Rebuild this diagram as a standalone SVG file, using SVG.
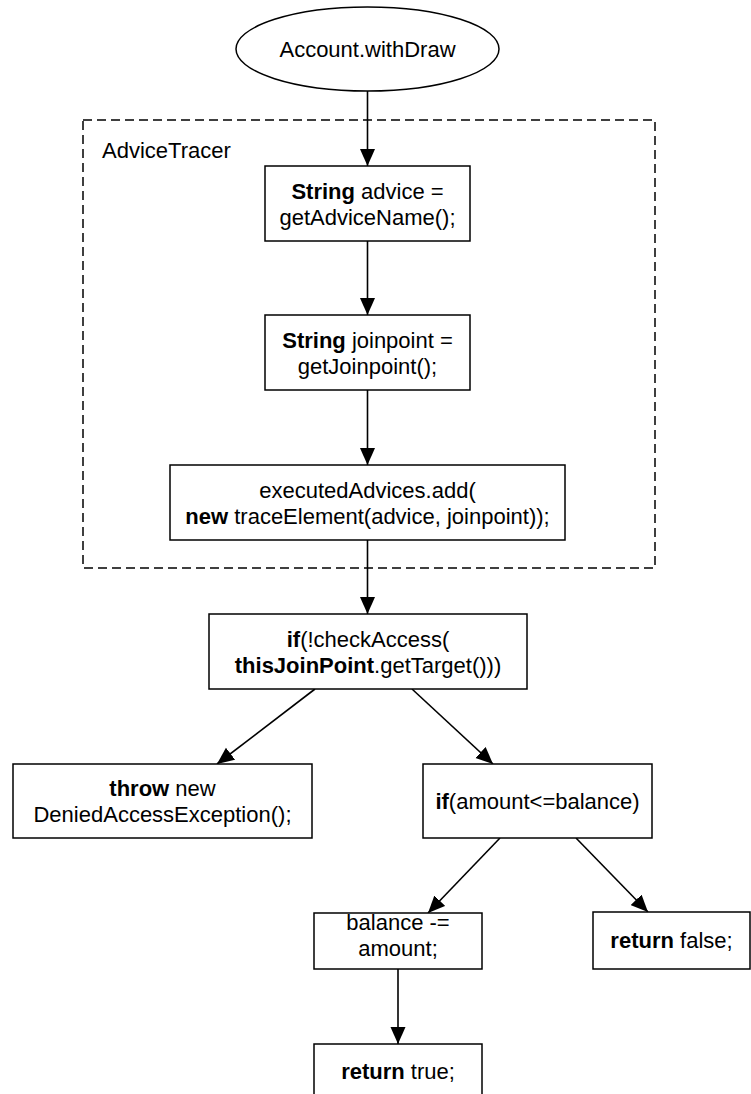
<svg xmlns="http://www.w3.org/2000/svg" width="751" height="1094" viewBox="0 0 751 1094">
<style>
.box{fill:#fff;stroke:#000;stroke-width:1.5}
.t{font-family:"Liberation Sans",Arial,Helvetica,sans-serif;font-size:22px;fill:#000;text-anchor:middle}
.b{font-weight:bold}
.edge{stroke:#000;stroke-width:1.6;fill:none;marker-end:url(#arr)}
</style>
<defs>
<marker id="arr" markerWidth="18" markerHeight="16" refX="17" refY="8" orient="auto" markerUnits="userSpaceOnUse">
<path d="M0,0.5 L17,8 L0,15.5 z" fill="#000"/>
</marker>
</defs>
<rect width="751" height="1094" fill="#fff"/>
<g id="advicetracer">
<rect x="83" y="120" width="572" height="448" fill="none" stroke="#000" stroke-width="1.5" stroke-dasharray="9,5"/>
<text class="t" x="102" y="158" style="text-anchor:start">AdviceTracer</text>
</g>
<g id="connectors">
<line class="edge" x1="367.5" y1="91" x2="367.5" y2="166"/>
<line class="edge" x1="367.5" y1="241" x2="367.5" y2="315"/>
<line class="edge" x1="367.5" y1="390" x2="367.5" y2="465"/>
<line class="edge" x1="367.5" y1="540" x2="367.5" y2="614"/>
<line class="edge" x1="315" y1="689" x2="217" y2="764"/>
<line class="edge" x1="412" y1="689" x2="493" y2="764"/>
<line class="edge" x1="500" y1="838" x2="428" y2="913"/>
<line class="edge" x1="576" y1="838" x2="648" y2="912"/>
<line class="edge" x1="398" y1="969" x2="398" y2="1044"/>
</g>
<g id="start">
<ellipse cx="367.5" cy="49" rx="131.5" ry="42" class="box"/>
<text class="t" x="367.5" y="57">Account.withDraw</text>
</g>
<g id="advice">
<rect class="box" x="265" y="166" width="205" height="75"/>
<text class="t" x="367.5" y="198.5"><tspan class="b">String</tspan> advice =</text>
<text class="t" x="367.5" y="224.5">getAdviceName();</text>
</g>
<g id="joinpoint">
<rect class="box" x="265" y="315" width="205" height="75"/>
<text class="t" x="367.5" y="347.5"><tspan class="b">String</tspan> joinpoint =</text>
<text class="t" x="367.5" y="373.5">getJoinpoint();</text>
</g>
<g id="executed">
<rect class="box" x="170" y="465" width="395" height="75"/>
<text class="t" x="367.5" y="497.5">executedAdvices.add(</text>
<text class="t" x="367.5" y="523.5"><tspan class="b">new</tspan> traceElement(advice, joinpoint));</text>
</g>
<g id="checkaccess">
<rect class="box" x="209" y="614" width="318" height="75"/>
<text class="t" x="368" y="646.5"><tspan class="b">if</tspan>(!checkAccess(</text>
<text class="t" x="368" y="672.5"><tspan class="b">thisJoinPoint</tspan>.getTarget()))</text>
</g>
<g id="throw">
<rect class="box" x="13" y="764" width="299" height="74"/>
<text class="t" x="162.5" y="796"><tspan class="b">throw</tspan> new</text>
<text class="t" x="162.5" y="822">DeniedAccessException();</text>
</g>
<g id="ifamount">
<rect class="box" x="423" y="764" width="229" height="74"/>
<text class="t" x="537.5" y="809"><tspan class="b">if</tspan>(amount&lt;=balance)</text>
</g>
<g id="balance">
<rect class="box" x="314" y="913" width="168" height="56"/>
<text class="t" x="398" y="930">balance -=</text>
<text class="t" x="398" y="956">amount;</text>
</g>
<g id="returnfalse">
<rect class="box" x="593" y="912" width="157" height="57"/>
<text class="t" x="671.5" y="948"><tspan class="b">return</tspan> false;</text>
</g>
<g id="returntrue">
<rect class="box" x="314" y="1044" width="168" height="56"/>
<text class="t" x="398" y="1079"><tspan class="b">return</tspan> true;</text>
</g>
</svg>
